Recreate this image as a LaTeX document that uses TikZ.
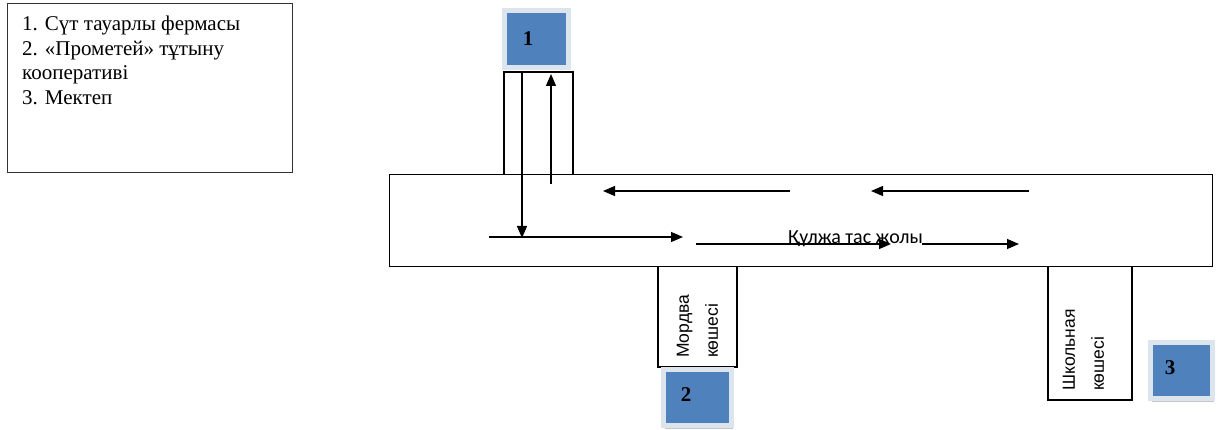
\documentclass[tikz,border=0pt]{standalone}
\usepackage{fontspec}
\setmainfont{Liberation Serif}
\newfontfamily\arialf{Liberation Sans}
\newfontfamily\calibrif{Carlito}
\usetikzlibrary{arrows.meta,shadows}
\definecolor{boxblue}{HTML}{4F81BD}
\definecolor{boxrim}{HTML}{DCE4EE}
\tikzset{
  road/.style={draw=black,line width=1.2pt},
  arr/.style={draw=black,line width=1.2pt,-{Triangle[length=12pt,width=10pt]}},
  bluebox/.style={rectangle,fill=boxblue,draw=boxrim,line width=5pt,inner sep=0pt,
    drop shadow={shadow xshift=1pt,shadow yshift=-3pt,opacity=0.45,fill=gray}},
  num/.style={font=\fontsize{21}{23}\selectfont\bfseries,inner sep=0pt},
  streetlbl/.style={font=\arialf\fontsize{17.5}{29}\selectfont,rotate=90,align=left,inner sep=0pt,anchor=west},
}
\begin{document}
\begin{tikzpicture}[x=1pt,y=-1pt]
\useasboundingbox (0,0) rectangle (1217,430);
% legend
\node[draw=black!80,line width=1pt,minimum width=285pt,minimum height=169pt,inner sep=0pt,anchor=north west] (legend) at (7,3) {};
\node[anchor=north west,align=left,inner sep=0pt,font=\fontsize{21}{24.5}\selectfont] (legtext) at (22,16)
  {1. Сүт тауарлы фермасы\\2. «Прометей» тұтыну\\кооперативі\\3. Мектеп};
% main road
\node[road,minimum width=823pt,minimum height=92pt,inner sep=0pt,anchor=north west] (mainroad) at (389,174) {};
% top side road
\coordinate (tl) at (504,72); \coordinate (tr) at (573,72);
\coordinate (tlb) at (504,174); \coordinate (trb) at (573,174);
\draw[road] (tlb) -- (tl) -- (tr) -- (trb);
% Mordva street
\coordinate (ml) at (658,266); \coordinate (mr) at (737,266);
\coordinate (mlb) at (658,367); \coordinate (mrb) at (737,367);
\draw[road] (ml) -- (mlb) -- (mrb) -- (mr);
% Shkolnaya street
\coordinate (sl) at (1048,266); \coordinate (sr) at (1132,266);
\coordinate (slb) at (1048,400); \coordinate (srb) at (1132,400);
\draw[road] (sl) -- (slb) -- (srb) -- (sr);
% arrows
\coordinate (d1) at (522,72); \coordinate (d2) at (522,238);
\draw[arr] (d1) -- (d2);
\coordinate (u1) at (551,184); \coordinate (u2) at (551,74);
\draw[arr] (u1) -- (u2);
\coordinate (r1a) at (489,237); \coordinate (r1b) at (683,237);
\draw[arr] (r1a) -- (r1b);
\coordinate (r2a) at (696,244); \coordinate (r2b) at (891,244);
\draw[arr] (r2a) -- (r2b);
\coordinate (r3a) at (922,244); \coordinate (r3b) at (1019,244);
\draw[arr] (r3a) -- (r3b);
\coordinate (l1a) at (790,191); \coordinate (l1b) at (603,191);
\draw[arr] (l1a) -- (l1b);
\coordinate (l2a) at (1029,191); \coordinate (l2b) at (871,191);
\draw[arr] (l2a) -- (l2b);
\node[font=\calibrif\fontsize{20}{22}\selectfont,inner sep=0pt] (roadname) at (855.5,239) {Құлжа тас жолы};
% street labels
\node[streetlbl] (mordva) at (697.5,358) {Мордва\\көшесі};
\node[streetlbl] (shkol) at (1083.5,391) {Школьная\\көшесі};
% numbered boxes
\node[bluebox,minimum width=64pt,minimum height=57pt] (b1) at (536.5,39) {};
\node[num] (n1) at (528,39) {1};
\node[bluebox,minimum width=68pt,minimum height=56pt] (b2) at (697.5,397.5) {};
\node[num] (n2) at (686,395) {2};
\node[bluebox,minimum width=62pt,minimum height=56pt] (b3) at (1181.5,370.5) {};
\node[num] (n3) at (1170,368) {3};
\end{tikzpicture}
\end{document}
